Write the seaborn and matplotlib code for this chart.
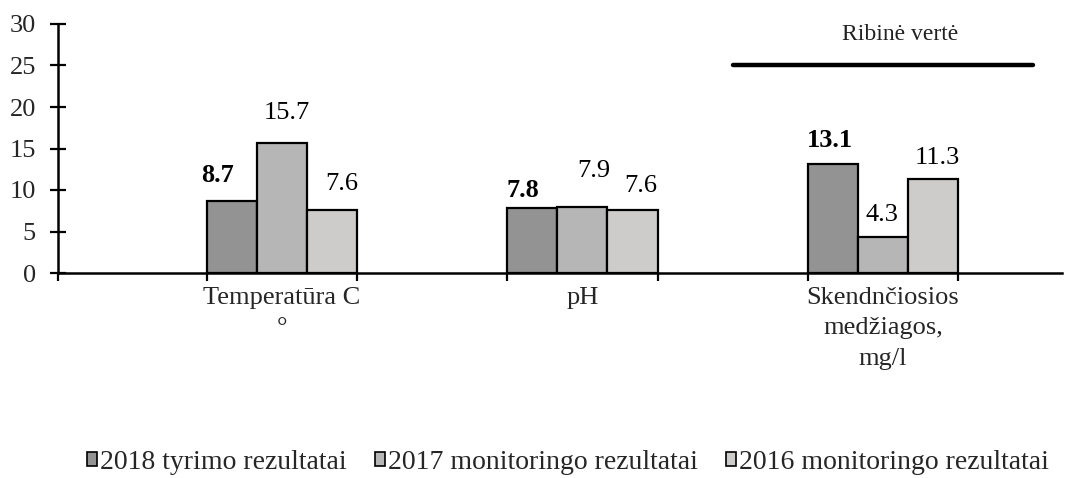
import matplotlib
matplotlib.use("Agg")
import matplotlib.pyplot as plt
import numpy as np
import pandas as pd
import seaborn as sns

# ---- data -------------------------------------------------------------
parameters = ["Temperatūra C\n°", "pH", "Skendnčiosios\nmedžiagos,\nmg/l"]
series = ["2018 tyrimo rezultatai", "2017 monitoringo rezultatai", "2016 monitoringo rezultatai"]
values_2018 = [8.7, 7.8, 13.1]
values_2017 = [15.7, 7.9, 4.3]
values_2016 = [7.6, 7.6, 11.3]
limit_value = 25
limit_label = "Ribinė vertė"
y_ticks = [0, 5, 10, 15, 20, 25, 30]

# ---- styling ----------------------------------------------------------
colors = ["#939393", "#b5b6b5", "#cdccca"]
# value-label offsets in pixels (dx, dy) from the top centre of each bar
label_nudges = [
    [(-14, 25), (-9, 18), (-3, 24)],
    [(5, 30), (11, 36), (-1, 22)],
    [(10, 26), (8, 24), (4, 21)],
]

sns.set_theme(style="white")
plt.rcParams["font.family"] = ["Liberation Serif", "DejaVu Serif"]
plt.rcParams["font.size"] = 19

df = pd.DataFrame({
    "parameter": parameters * 3,
    "series": [s for s in series for _ in parameters],
    "value": values_2018 + values_2017 + values_2016,
})

fig = plt.figure(figsize=(10.83, 4.78), dpi=100)
ax = fig.add_axes([58 / 1083, 205 / 478, 1004 / 1083, 249 / 478])

sns.barplot(
    data=df, x="parameter", y="value", hue="series",
    order=parameters, hue_order=series, palette=colors,
    width=0.5, saturation=1, edgecolor="black", linewidth=1.6,
    errorbar=None, ax=ax,
)
ax.get_legend().remove()

# value labels
for i, cont in enumerate(ax.containers):
    for j, bar in enumerate(cont):
        val = bar.get_height()
        cx = bar.get_x() + bar.get_width() / 2
        dx, dy = label_nudges[i][j]
        ax.annotate(f"{val:.1f}", xy=(cx, val), xytext=(dx, dy),
                    textcoords="offset pixels", ha="center", va="center",
                    fontsize=19, fontweight="bold" if i == 0 else "normal",
                    color="black")

# limit-value line over the third category
ax.plot([1.5, 2.5], [limit_value, limit_value], color="black", lw=3.2,
        solid_capstyle="round")
ax.text(2.056, 28.7, limit_label, ha="center", va="center", fontsize=17,
        color="#222222")

# axes
ax.set_xlim(-0.745, 2.596)
ax.set_ylim(0, 30)
ax.set_yticks(y_ticks)
ax.set_xlabel("")
ax.set_ylabel("")
for side in ("top", "right"):
    ax.spines[side].set_visible(False)
for side in ("left", "bottom"):
    ax.spines[side].set_color("black")
    ax.spines[side].set_linewidth(1.8)

ax.tick_params(axis="y", direction="inout", length=11, width=1.6,
               color="black", labelsize=19, pad=10.5, left=True)
ax.set_xticks(range(len(parameters)))
ax.set_xticklabels(parameters, fontsize=19, linespacing=1.5, va="top")
ax.tick_params(axis="x", which="major", length=0, pad=10)
edges = [-0.745] + [k + d for k in range(len(parameters)) for d in (-0.25, 0.25)]
ax.set_xticks(edges, minor=True)
ax.tick_params(axis="x", which="minor", direction="out", length=6, width=1.6,
               color="black", bottom=True)

# legend
handles = [plt.Rectangle((0, 0), 1, 1, facecolor=c, edgecolor="black", lw=1.2)
           for c in colors]
fig.legend(handles, series, loc="center", bbox_to_anchor=(568 / 1083, 0.033),
           ncol=3, frameon=False, fontsize=20, handlelength=0.38,
           handleheight=0.38, handletextpad=0.1, columnspacing=1.0,
           borderaxespad=0)

fig.savefig("out.png", dpi=100)
